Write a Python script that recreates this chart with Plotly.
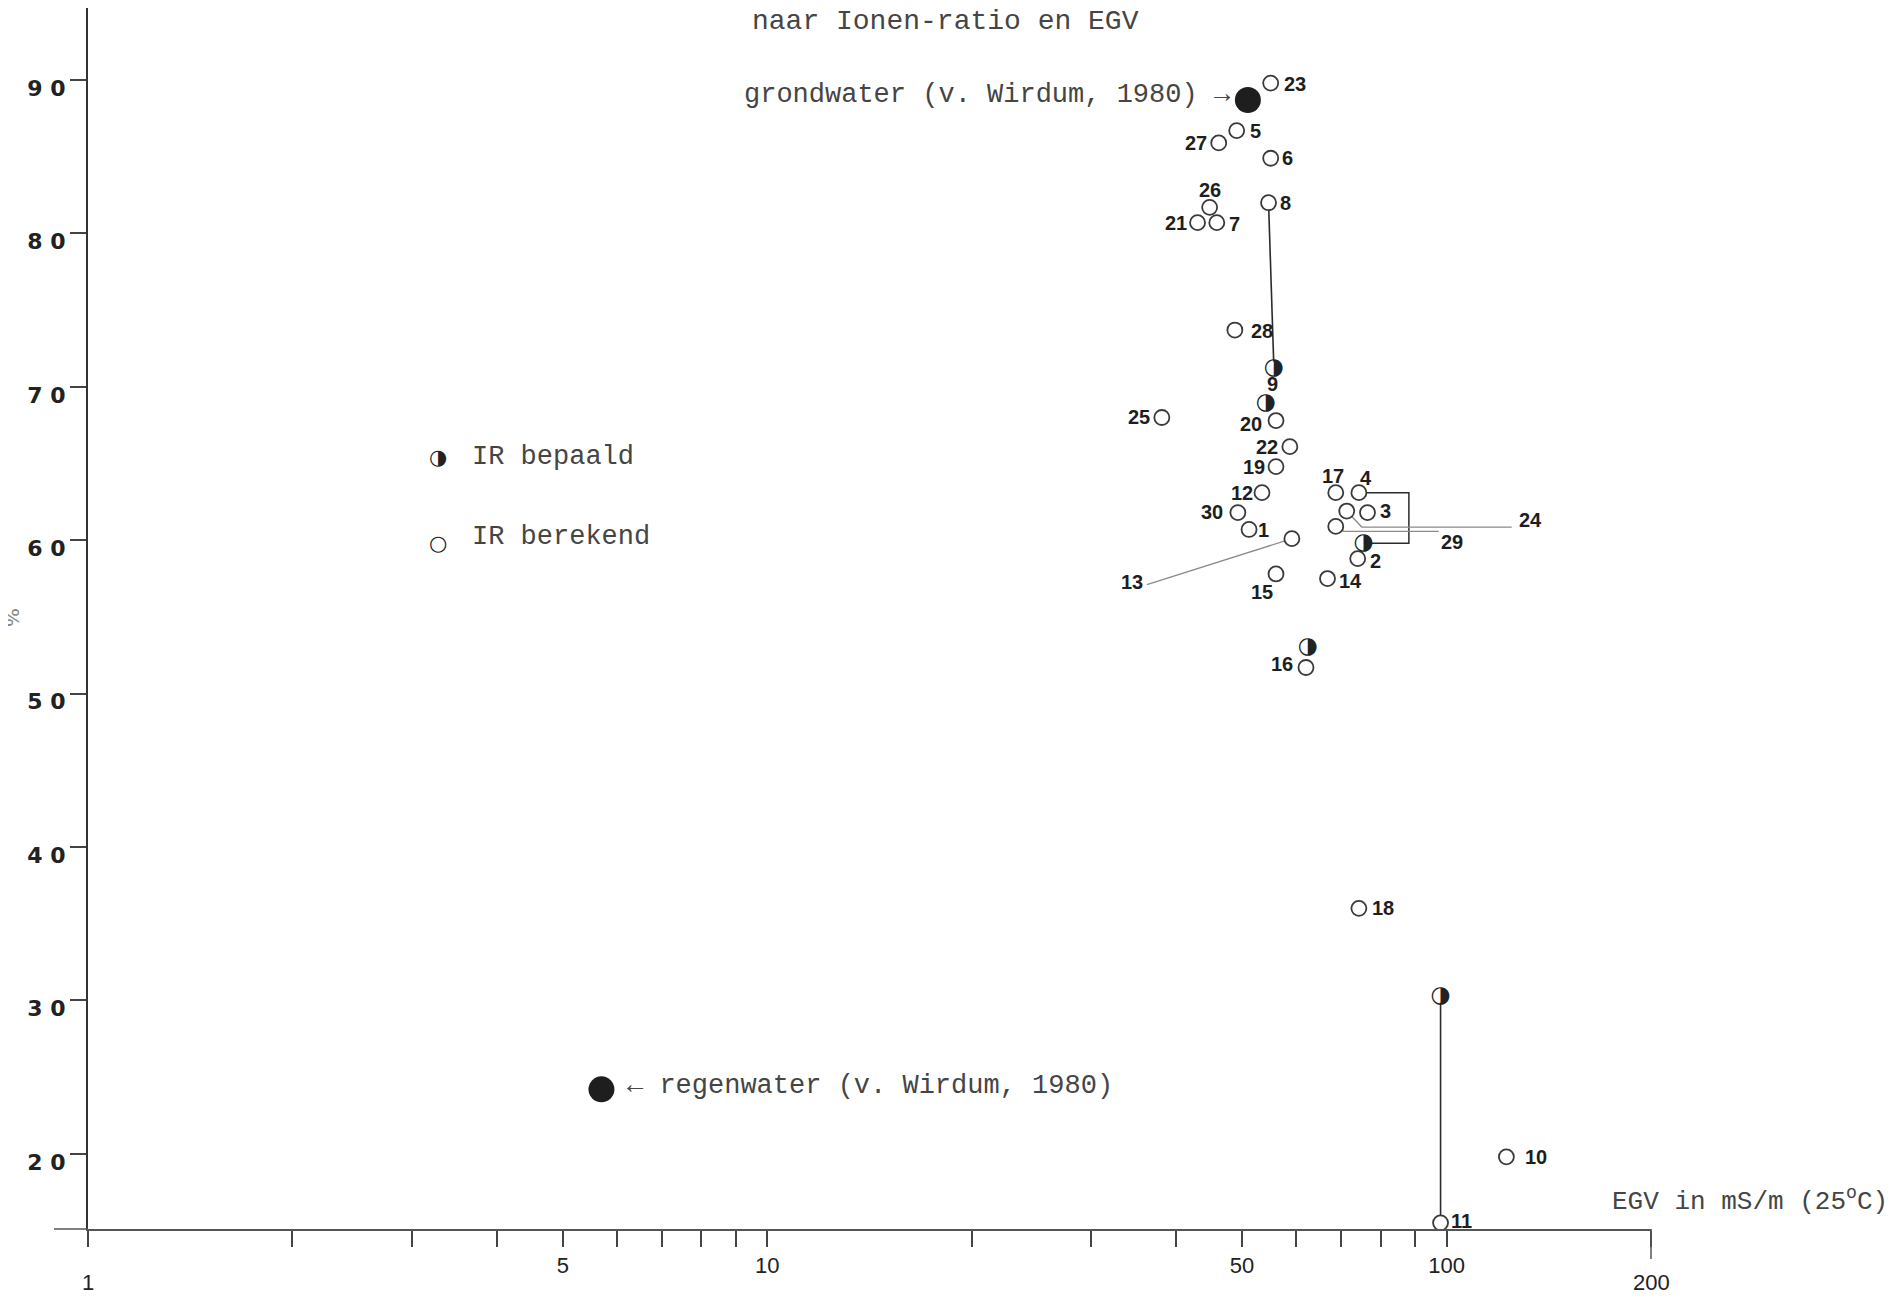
import numpy as np
import plotly.graph_objects as go

# ---------------- data ----------------
calc_ids = ["23", "5", "27", "6", "26", "21", "7", "8", "28", "20", "25", "22", "19",
            "12", "30", "1", "13", "15", "14", "17", "4", "24", "3", "29", "2", "16",
            "18", "11", "10"]
calc_egv = [55.1, 49.1, 46.2, 55.1, 44.8, 43.0, 45.9, 54.7, 48.8, 56.1, 38.1, 58.8, 56.1,
            53.5, 49.3, 51.2, 59.2, 56.1, 66.8, 68.7, 74.3, 71.3, 76.5, 68.7, 74.0, 62.1,
            74.3, 98.0, 122.5]
calc_pct = [89.8, 86.7, 85.9, 84.9, 81.7, 80.7, 80.7, 82.0, 73.7, 67.8, 68.0, 66.1, 64.8,
            63.1, 61.8, 60.7, 60.1, 57.8, 57.5, 63.1, 63.1, 61.9, 61.8, 60.9, 58.8, 51.7,
            36.0, 15.5, 19.8]

meas_ids = ["9", "9b", "2m", "16m", "11m"]
meas_egv = [55.7, 54.2, 75.5, 62.5, 98.0]
meas_pct = [71.2, 68.9, 59.8, 53.0, 30.3]

ref_names = ["grondwater (v. Wirdum, 1980)", "regenwater (v. Wirdum, 1980)"]
ref_egv = [51.0, 5.7]
ref_pct = [88.7, 24.2]

x_tickvals = [1, 2, 3, 4, 5, 6, 7, 8, 9, 10, 20, 30, 40, 50, 60, 70, 80, 90, 100, 200]
x_ticktext = ["", "", "", "", "5", "", "", "", "", "10", "", "", "", "50", "", "", "", "",
              "100", ""]
x_low_labels = [1, 200]          # these two labels sit lower in the original
y_tickvals = [20, 30, 40, 50, 60, 70, 80, 90]
y_ticktext = ["2 0", "3 0", "4 0", "5 0", "6 0", "7 0", "8 0", "9 0"]

# ---------------- layout geometry / styles ----------------
PAGE_W, PAGE_H = 1899, 1302
OFF = 8                        # default body margin of the html page
W, H = PAGE_W - OFF, PAGE_H - OFF
PLOT_L, PLOT_R, PLOT_B = 88, 1651, 1229   # page pixels
ML, MR, MT, MB = PLOT_L - OFF, W - (PLOT_R - OFF), 0, H - (PLOT_B - OFF)
X_RANGE = [0.0, float(np.log10(200))]
PX_PER_PCT = 15.34
Y_TOP = 90 + (80 - OFF) / PX_PER_PCT
Y_RANGE = [Y_TOP - (H - MB) / PX_PER_PCT, Y_TOP]
PW = W - ML - MR
PH = H - MT - MB
PX_PER_DEC = PW / (X_RANGE[1] - X_RANGE[0])


def shift_x(x, dx):
    return x * 10 ** (dx / PX_PER_DEC)


def shift_y(y, dy):  # dy positive = downwards in pixels
    return y - dy / PX_PER_PCT


def paper(X, Y):  # page pixels -> paper fraction
    return (X - PLOT_L) / PW, (PLOT_B - Y) / PH


# label offsets (pixels, dy positive = down)
LABEL_OFF = {"23": (24, 1), "5": (19, 0), "27": (-23, 0), "6": (17, 0), "26": (0, -17),
             "21": (-22, 0), "7": (18, 1), "8": (17, 0), "28": (27, 1), "20": (-25, 3),
             "25": (-23, 0), "22": (-23, 0), "19": (-22, 0), "12": (-20, 0), "30": (-26, -1),
             "1": (14, 1), "13": (-160, 43), "15": (-14, 18), "14": (23, 2), "17": (-3, -17),
             "4": (7, -15), "24": (184, 9), "3": (18, -2), "29": (116, 16), "2": (18, 2),
             "16": (-24, -4), "18": (24, 0), "11": (21, -2), "10": (30, 0)}
MEAS_LABEL_OFF = {"9": (-1, 16)}
LEADERS = {"13": [(0, 0), (-145, 46)],
           "24": [(0, 0), (15, 16), (165, 16)],
           "29": [(0, 0), (8, 5), (103, 5)]}
CONNECT = [("8", "9"), ("11m", "11")]
BRACKET = ("4", "2m", 50)

TYPE_FONT = "Liberation Mono, Courier New, monospace"
TYPE_COLOR = "#454545"
LBL_FONT = "Liberation Sans, Arial, sans-serif"

P = {}
for i, x, y in zip(calc_ids, calc_egv, calc_pct):
    P[i] = (x, y)
for i, x, y in zip(meas_ids, meas_egv, meas_pct):
    P[i] = (x, y)

fig = go.Figure()

# connectors
for a, b in CONNECT:
    (xa, ya), (xb, yb) = P[a], P[b]
    fig.add_trace(go.Scatter(x=[xa, xb], y=[ya, yb], mode="lines",
                             line=dict(color="#2b2b2b", width=1.6),
                             hoverinfo="skip", showlegend=False))
a, b, off = BRACKET
(xa, ya), (xb, yb) = P[a], P[b]
xr = shift_x(xa, off)
fig.add_trace(go.Scatter(x=[xa, xr, xr, xb], y=[ya, ya, yb, yb], mode="lines",
                         line=dict(color="#2b2b2b", width=1.5),
                         hoverinfo="skip", showlegend=False))
for k, offs in LEADERS.items():
    x0, y0 = P[k]
    fig.add_trace(go.Scatter(x=[shift_x(x0, dx) for dx, dy in offs],
                             y=[shift_y(y0, dy) for dx, dy in offs], mode="lines",
                             line=dict(color="#8a8a8a", width=1.3),
                             hoverinfo="skip", showlegend=False))

# open circles (IR berekend)
fig.add_trace(go.Scatter(x=calc_egv, y=calc_pct, mode="markers", name="IR berekend",
                         marker=dict(symbol="circle", size=15, color="white",
                                     line=dict(color="#3a3a3a", width=1.8)),
                         showlegend=False))
# half-filled circles (IR bepaald)
fig.add_trace(go.Scatter(x=meas_egv, y=meas_pct, mode="markers",
                         marker=dict(symbol="circle", size=14, color="white"),
                         hoverinfo="skip", showlegend=False))
fig.add_trace(go.Scatter(x=meas_egv, y=meas_pct, mode="text", name="IR bepaald",
                         text=["◑"] * len(meas_ids), textposition="middle center",
                         textfont=dict(family="DejaVu Sans", size=23, color="#222"),
                         showlegend=False))
# reference waters
fig.add_trace(go.Scatter(x=ref_egv, y=ref_pct, mode="markers",
                         marker=dict(symbol="circle", size=26, color="#1e1e1e"),
                         showlegend=False))

ann = []
for i in calc_ids:
    dx, dy = LABEL_OFF[i]
    x, y = P[i]
    ann.append(dict(x=np.log10(x), y=y, xref="x", yref="y", text=i, showarrow=False,
                    xshift=dx, yshift=-dy, xanchor="center", yanchor="middle",
                    font=dict(family=LBL_FONT, size=20, color="#1e1e1e", weight="bold")))
for i, (dx, dy) in MEAS_LABEL_OFF.items():
    x, y = P[i]
    ann.append(dict(x=np.log10(x), y=y, xref="x", yref="y", text=i, showarrow=False,
                    xshift=dx, yshift=-dy, xanchor="center", yanchor="middle",
                    font=dict(family=LBL_FONT, size=20, color="#1e1e1e", weight="bold")))

# reference labels
ann.append(dict(x=np.log10(ref_egv[0]), y=ref_pct[0], xref="x", yref="y",
                text=ref_names[0] + " <b>→</b>", showarrow=False, xshift=-15, yshift=5,
                xanchor="right", yanchor="middle",
                font=dict(family=TYPE_FONT, size=27, color=TYPE_COLOR)))
ann.append(dict(x=np.log10(ref_egv[1]), y=ref_pct[1], xref="x", yref="y",
                text="<b>←</b> " + ref_names[1], showarrow=False, xshift=24, yshift=3,
                xanchor="left", yanchor="middle",
                font=dict(family=TYPE_FONT, size=27, color=TYPE_COLOR)))

# title (cut off at top)
tx, ty = paper(945, 22)
ann.append(dict(x=tx, y=ty, xref="paper", yref="paper", text="naar Ionen-ratio en EGV",
                showarrow=False, xanchor="center", yanchor="middle",
                font=dict(family=TYPE_FONT, size=28, color=TYPE_COLOR)))

# legend
for sym, label, (sx, sy), (lx, ly) in [("◑", "IR bepaald", (438, 457), (470, 457)),
                                        ("○", "IR berekend", (438, 543), (470, 537))]:
    px_, py_ = paper(sx, sy)
    ann.append(dict(x=px_, y=py_, xref="paper", yref="paper", text=sym, showarrow=False,
                    xanchor="center", yanchor="middle",
                    font=dict(family="DejaVu Sans", size=21, color="#222")))
    px_, py_ = paper(lx, ly)
    ann.append(dict(x=px_, y=py_, xref="paper", yref="paper", text=label, showarrow=False,
                    xanchor="left", yanchor="middle",
                    font=dict(family=TYPE_FONT, size=27, color=TYPE_COLOR)))

# lower x tick labels (1 and 200)
_, ly = paper(0, 1282)
for v in x_low_labels:
    ann.append(dict(x=np.log10(v), y=ly, xref="x", yref="paper", text=str(v),
                    showarrow=False, xanchor="center", yanchor="middle",
                    font=dict(family=LBL_FONT, size=22, color="#222")))

# axis title
ex, ey = paper(1610, 1200)
ann.append(dict(x=ex, y=ey, xref="paper", yref="paper",
                text="EGV in mS/m (25<sup>o</sup>C)", showarrow=False,
                xanchor="left", yanchor="middle",
                font=dict(family=TYPE_FONT, size=26, color=TYPE_COLOR)))
# y unit
ux, uy = paper(12, 617)
ann.append(dict(x=ux, y=uy, xref="paper", yref="paper", text="%", textangle=90,
                showarrow=False, xanchor="center", yanchor="middle",
                font=dict(family="DejaVu Sans", size=20, color="#888")))

shapes = [
    dict(type="line", xref="paper", yref="paper", x0=-34 / PW, x1=0, y0=0, y1=0,
         line=dict(color="#555", width=1.5)),
    dict(type="line", xref="paper", yref="paper", x0=1, x1=1, y0=0, y1=-30 / PH,
         line=dict(color="#555", width=1.5)),
]

fig.update_layout(
    width=W, height=H, margin=dict(l=ML, r=MR, t=MT, b=MB),
    paper_bgcolor="white", plot_bgcolor="white",
    annotations=ann, shapes=shapes, showlegend=False,
    xaxis=dict(type="log", range=X_RANGE, tickvals=x_tickvals, ticktext=x_ticktext,
               ticks="outside", ticklen=16, tickwidth=1.5, tickcolor="#444",
               showline=True, linecolor="#555", linewidth=1.5, showgrid=False,
               zeroline=False, automargin=False,
               tickfont=dict(family=LBL_FONT, size=22, color="#222")),
    yaxis=dict(range=Y_RANGE, tickvals=y_tickvals, ticktext=y_ticktext,
               ticks="outside", ticklen=16, tickwidth=1.5, tickcolor="#444",
               showline=True, linecolor="#333", linewidth=2, showgrid=False,
               zeroline=False, automargin=False, ticklabelshift=8,
               tickfont=dict(family="DejaVu Sans", size=22, color="#222", weight="bold")),
)

fig.write_html("out.html")
